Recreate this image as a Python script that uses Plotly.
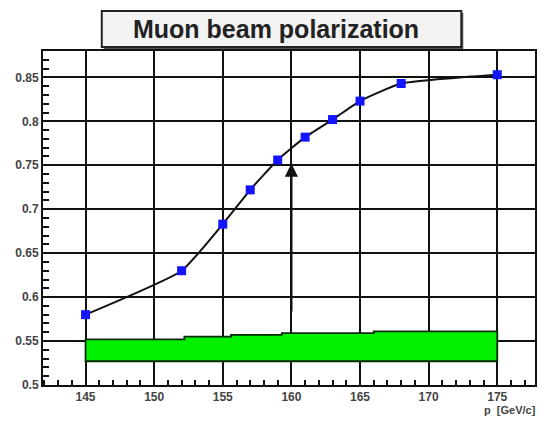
import plotly.graph_objects as go

# Beam momentum (GeV/c) and muon beam polarization
momentum = [145, 152, 155, 157, 159, 161, 163, 165, 168, 175]
polarization = [0.580, 0.630, 0.683, 0.722, 0.756, 0.782, 0.802, 0.823, 0.843, 0.853]

# Stepped green band: bin edges and upper values, common lower level
band_edges = [145, 152.2, 155.6, 159.3, 166.0, 175]
band_top = [0.552, 0.555, 0.557, 0.559, 0.561]
band_bottom = 0.527

# Arrow marking the chosen momentum
arrow_p = 160
arrow_from = 0.582
arrow_to = 0.752

W, H = 541, 423
ml, mr, mt, mb = 43, 4, 51, 38

# closed outline of the stepped band
bx, by = [], []
for i, top in enumerate(band_top):
    bx += [band_edges[i], band_edges[i + 1]]
    by += [top, top]
bx += [band_edges[-1], band_edges[0], band_edges[0]]
by += [band_bottom, band_bottom, band_top[0]]

fig = go.Figure()

fig.add_trace(go.Scatter(
    x=bx, y=by, mode="lines", fill="toself",
    fillcolor="#00f000", line=dict(color="#0a2a0a", width=1.8),
    hoverinfo="skip", showlegend=False,
))

fig.add_trace(go.Scatter(
    x=momentum, y=polarization, mode="lines",
    line=dict(color="#111111", width=2, shape="spline", smoothing=0.45),
    showlegend=False,
))

fig.add_trace(go.Scatter(
    x=momentum, y=polarization, mode="markers",
    marker=dict(symbol="square", size=9, color="#1414ff",
                line=dict(width=0)),
    showlegend=False,
))

fig.add_annotation(
    x=arrow_p, y=arrow_to, ax=arrow_p, ay=arrow_from,
    xref="x", yref="y", axref="x", ayref="y",
    showarrow=True, arrowhead=2, arrowsize=1.2, arrowwidth=2.2,
    arrowcolor="#111111", text="",
)

# title box with a small drop shadow
def px_x(v):
    return (v - ml) / (W - ml - mr)

def px_y(v):
    return (H - mb - v) / (H - mt - mb)

fig.add_shape(type="rect", xref="paper", yref="paper",
              x0=px_x(104), x1=px_x(465), y0=px_y(49), y1=px_y(13),
              fillcolor="#555555", line=dict(width=0), layer="above")
fig.add_shape(type="rect", xref="paper", yref="paper",
              x0=px_x(102), x1=px_x(463), y0=px_y(47), y1=px_y(11),
              fillcolor="#f3f3f3", line=dict(color="#222222", width=2),
              layer="above")
fig.add_annotation(
    xref="paper", yref="paper", x=px_x(277), y=px_y(29),
    text="Muon beam polarization", showarrow=False,
    font=dict(family="Liberation Sans", size=25, color="#222222", weight="bold"),
    xanchor="center", yanchor="middle",
)

fig.add_annotation(
    xref="paper", yref="paper", x=px_x(540), y=px_y(410),
    text="p  [GeV/c]", showarrow=False,
    font=dict(family="Liberation Sans", size=11, color="#444444", weight="bold"),
    xanchor="right", yanchor="middle",
)

axis_common = dict(
    showgrid=True, gridcolor="#111111", gridwidth=2,
    showline=True, linecolor="#111111", linewidth=2, mirror=True,
    zeroline=False, ticks="inside", tickcolor="#111111",
    tickfont=dict(family="Liberation Sans", size=12, color="#444444", weight="bold"),
)

fig.update_xaxes(
    range=[141.9, 177.75], tick0=145, dtick=5, ticklen=9, tickwidth=1.5,
    minor=dict(ticks="inside", dtick=1, ticklen=5, tickcolor="#111111", showgrid=False),
    **axis_common,
)
fig.update_yaxes(
    range=[0.5, 0.88], tick0=0.5, dtick=0.05, ticklen=9, tickwidth=1.5,
    minor=dict(ticks="inside", dtick=0.01, ticklen=6, tickcolor="#111111", showgrid=False),
    **axis_common,
)

fig.update_layout(
    width=W, height=H,
    margin=dict(l=ml, r=mr, t=mt, b=mb),
    paper_bgcolor="white", plot_bgcolor="white",
    showlegend=False,
)

fig.write_html("out.html")
